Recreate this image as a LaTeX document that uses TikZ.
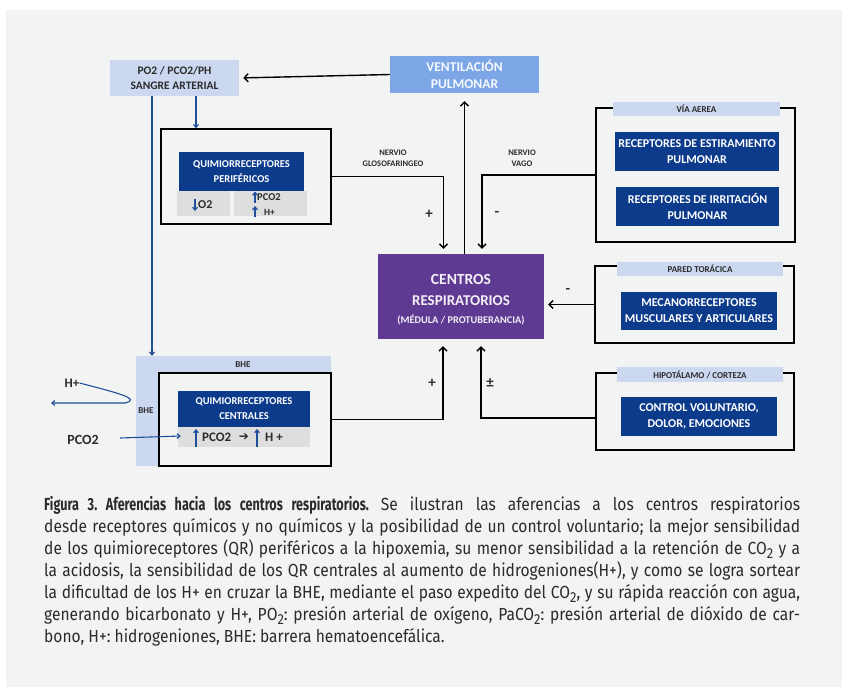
\documentclass[tikz,border=0pt]{standalone}
\usepackage{fontspec}
\setmainfont{Carlito}
\newfontfamily\capfont[UprightFeatures={FakeStretch=0.89},BoldFeatures={FakeStretch=0.72}]{Fira Sans}
\usetikzlibrary{arrows.meta,calc}

\definecolor{panelgray}{HTML}{F2F3F3}
\definecolor{bandblue}{HTML}{CBD8F0}
\definecolor{ventblue}{HTML}{7CA6E6}
\definecolor{deepblue}{HTML}{0D3B8C}
\definecolor{arrowblue}{HTML}{1F4E9B}
\definecolor{centpurple}{HTML}{5F3A92}
\definecolor{cellgray}{HTML}{DEDEDE}
\definecolor{capgray}{HTML}{2B2B2B}

\newcommand{\fsz}[2]{\fontsize{#1}{#2}\selectfont\bfseries}
\newcommand{\lowtwo}{\raisebox{-0.45ex}{\fontsize{14.5}{14.5}\selectfont 2}}

\begin{document}
\begin{tikzpicture}[x=1pt,y=-1pt,
		>={Straight Barb[length=4pt,width=8pt]},
		every node/.style={inner sep=0pt,font=\bfseries,text=capgray},
		framebox/.style={draw=black,line width=1.4pt,fill=panelgray},
		deepbox/.style={fill=deepblue,align=center,text=white},
		bandbox/.style={fill=bandblue,align=center},
		cellbox/.style={fill=cellgray},
		blackarrow/.style={->,line width=1.4pt,black},
		bluearrow/.style={-{Straight Barb[length=3pt,width=5pt]},line width=1.1pt,arrowblue},
		signlabel/.style={font=\fsz{15}{15}},
		nervelabel/.style={align=center,font=\fsz{8.5}{11}}]

		\useasboundingbox (0,0) rectangle (842,687);
		\fill[panelgray] (6,10) rectangle (842,687);

		% sangre arterial y ventilacion
		\node[bandbox,minimum width=129pt,minimum height=36pt,font=\fsz{11.5}{15.5}] (po2) at (174.5,78) {PO2 / PCO2/PH\\SANGRE ARTERIAL};
		\node[fill=ventblue,align=center,text=white!93!ventblue,minimum width=149pt,minimum height=37pt,font=\fsz{13.5}{17.5}] (vent) at (464.5,74.5) {VENTILACIÓN\\PULMONAR};

		% quimiorreceptores perifericos
		\node[framebox,minimum width=170pt,minimum height=95pt] (perif) at (246,176.5) {};
		\node[deepbox,minimum width=125pt,minimum height=39pt,font=\fsz{10.5}{15}] (perifin) at (241.5,171.5) {QUIMIORRECEPTORES\\PERIFÉRICOS};
		\node[cellbox,minimum width=53pt,minimum height=25pt] (cello2) at (203.5,203.5) {};
		\node[cellbox,minimum width=73pt,minimum height=25pt] (cellpco) at (270.5,203.5) {};
		\node[anchor=west,font=\fsz{12}{12}] (o2) at (198,205) {O2};
		\node[anchor=west,font=\fsz{10.5}{10.5}] (pcop) at (257,197.5) {PCO2};
		\node[anchor=west,font=\fsz{9.5}{9.5}] (hp) at (264,212) {H+};
		\draw[bluearrow] (195,199) -- (195,211);
		\draw[bluearrow] (255,203) -- (255,191.5);
		\draw[bluearrow] (255,217) -- (255,206);

		% centros respiratorios
		\node[fill=centpurple,minimum width=166pt,minimum height=85pt] (centros) at (461,296.5) {};
		\node[text=white!92!centpurple,font=\fsz{15.5}{15.5}] (c1) at (461,279) {CENTROS};
		\node[text=white!92!centpurple,font=\fsz{15}{15}] (c2) at (461,301) {RESPIRATORIOS};
		\node[text=white!92!centpurple,font=\fsz{10.3}{10.3}] (c3) at (461,319.5) {(MÉDULA / PROTUBERANCIA)};

		% via aerea
		\node[framebox,minimum width=199pt,minimum height=134pt] (aerea) at (695.5,175) {};
		\node[bandbox,minimum width=167pt,minimum height=14pt,font=\fsz{9}{9}] (aereatag) at (696.5,109) {VÍA AEREA};
		\node[deepbox,minimum width=164pt,minimum height=39pt,font=\fsz{12}{16}] (estira) at (697,151.5) {RECEPTORES DE ESTIRAMIENTO\\PULMONAR};
		\node[deepbox,minimum width=163pt,minimum height=39pt,font=\fsz{12}{16}] (irrita) at (697.5,206.5) {RECEPTORES DE IRRITACIÓN\\PULMONAR};

		% pared toracica
		\node[framebox,minimum width=199pt,minimum height=77pt] (pared) at (694.5,304.5) {};
		\node[bandbox,minimum width=166pt,minimum height=14pt,font=\fsz{9}{9}] (paredtag) at (700,269) {PARED TORÁCICA};
		\node[deepbox,minimum width=156pt,minimum height=38pt,font=\fsz{12}{16}] (mecano) at (699,311) {MECANORRECEPTORES\\MUSCULARES Y ARTICULARES};

		% hipotalamo / corteza
		\node[framebox,minimum width=198pt,minimum height=77pt] (hipo) at (695,411.5) {};
		\node[bandbox,minimum width=166pt,minimum height=15pt,font=\fsz{9}{9}] (hipotag) at (700,374.5) {HIPOTÁLAMO / CORTEZA};
		\node[deepbox,minimum width=156pt,minimum height=39pt,font=\fsz{12}{16}] (volunt) at (699,416.5) {CONTROL VOLUNTARIO,\\DOLOR, EMOCIONES};

		% barrera hematoencefalica y quimiorreceptores centrales
		\node[fill=bandblue,minimum width=195pt,minimum height=110pt] (bhe) at (233.5,411) {};
		\node[font=\fsz{9}{9}] (bhetop) at (243,365) {BHE};
		\node[font=\fsz{9}{9}] (bheside) at (146,411) {BHE};
		\node[framebox,minimum width=172pt,minimum height=93pt] (central) at (245,419.5) {};
		\node[deepbox,minimum width=132pt,minimum height=36pt,font=\fsz{10.5}{15}] (centralin) at (244,409) {QUIMIORRECEPTORES\\CENTRALES};
		\node[cellbox,minimum width=132pt,minimum height=20pt] (cellcent) at (244,437) {};
		\node[anchor=west,font=\fsz{13}{13}] (pcoc) at (202,437.5) {PCO2};
		\node[font=\fsz{12}{12}] (rarrow) at (244,437.5) {\fontspec{DejaVu Sans}\bfseries ➔};
		\node[anchor=west,font=\fsz{13}{13}] (hc) at (265,437.5) {H +};
		\draw[bluearrow] (196,447) -- (196,429);
		\draw[bluearrow] (257,447) -- (257,429);

		\node[font=\fsz{13}{13}] (hplus) at (72,383) {H+};
		\node[font=\fsz{14}{14}] (pco2) at (83,440) {PCO2};
		\coordinate (hout) at (51,403);

		% conexiones
		\draw[blackarrow,shorten >=4pt] (vent.west) -- (po2.east);
		\draw[bluearrow] ($(po2.south)+(21.5,0)$) coordinate (p1) -- (p1 |- perif.north);
		\draw[bluearrow] ($(po2.south)+(-22.5,0)$) coordinate (p2) -- (p2 |- bhe.north);
		\draw[blackarrow,shorten >=5pt] (perif.east) -| ($(centros.north)+(-17.5,0)$);
		\draw[blackarrow,shorten >=5pt] (aerea.west) -| ($(centros.north)+(21,0)$);
		\draw[blackarrow,shorten >=8pt] (vent.south |- centros.north) -- (vent.south);
		\draw[blackarrow,shorten >=4pt] (pared.west) -- (pared.west -| centros.east);
		\draw[blackarrow,shorten >=7pt] ($(hipo.west)+(0,6.5)$) -| ($(centros.south)+(20,0)$);
		\draw[blackarrow,shorten >=7pt] (central.east) -| ($(centros.south)+(-18,0)$);
		\draw[bluearrow] (hplus.east) .. controls (118,393) and (142,399) .. (125,403) -- (hout);
		\draw[bluearrow] ($(pco2.east)+(21,-2)$) -- ($(cellcent.west)+(3,-1)$);

		\node[nervelabel] (glosof) at (393,158.5) {NERVIO\\GLOSOFARINGEO};
		\node[nervelabel] (vago) at (522,158.5) {NERVIO\\VAGO};
		\node[signlabel] (s1) at (429,214) {+};
		\node[signlabel] (s2) at (497,214) {-};
		\node[signlabel] (s3) at (568,291) {-};
		\node[signlabel] (s4) at (432,383) {+};
		\node[signlabel] (s5) at (490,383) {±};

		% pie de figura
		\node[anchor=north west,text width=756pt,align=justify,font=\capfont\fontsize{17.5}{22}\selectfont\frenchspacing] (caption) at (44,496)
		{{\bfseries Figura 3. Aferencias hacia los centros respiratorios.} Se ilustran las aferencias a los centros respiratorios\linebreak
		desde receptores químicos y no químicos y la posibilidad de un control voluntario; la mejor sensibilidad\linebreak
		de los quimioreceptores (QR) periféricos a la hipoxemia, su menor sensibilidad a la retención de CO\lowtwo{} y a\linebreak
		la acidosis, la sensibilidad de los QR centrales al aumento de hidrogeniones(H+), y como se logra sortear\linebreak
		la dificultad de los H+ en cruzar la BHE, mediante el paso expedito del CO\lowtwo, y su rápida reacción con agua,\linebreak
		generando bicarbonato y H+, PO\lowtwo: presión arterial de oxígeno, PaCO\lowtwo: presión arterial de dióxido de car-\linebreak
		bono, H+: hidrogeniones, BHE: barrera hematoencefálica.};
\end{tikzpicture}
\end{document}
